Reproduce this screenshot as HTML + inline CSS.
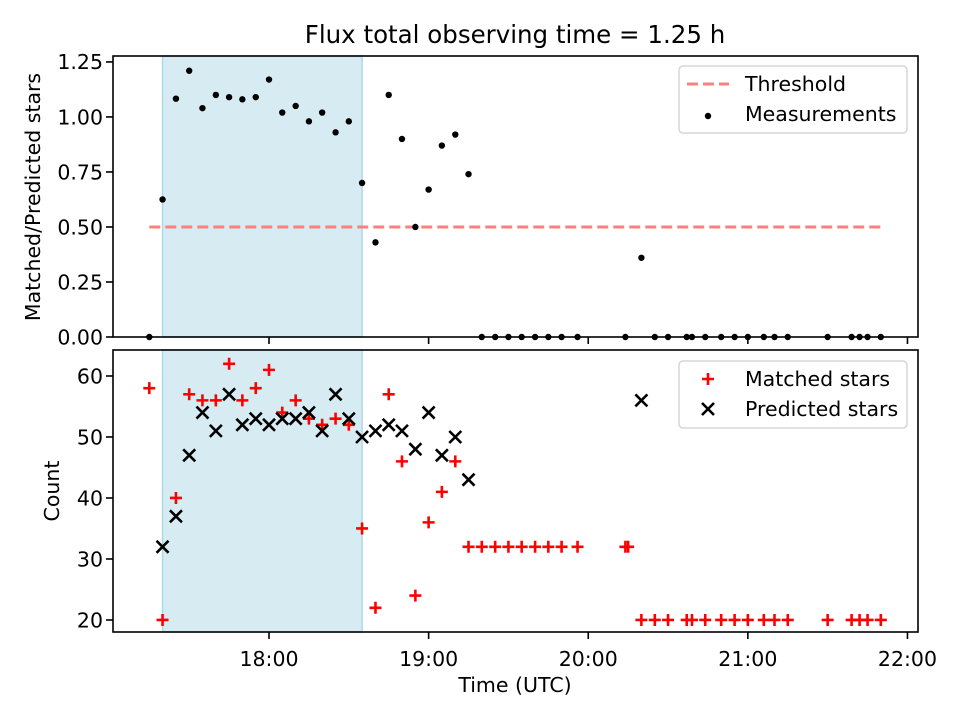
<!DOCTYPE html>
<html><head><meta charset="utf-8"><style>
html,body{margin:0;padding:0;background:#fff;}
svg text{font-family:"DejaVu Sans","Liberation Sans",sans-serif;fill:#000;}
</style></head><body>
<svg id="chart" width="960" height="720" xmlns="http://www.w3.org/2000/svg"></svg>
<script>
// times in decimal hours (UTC)
const ratioTimes = [17.25,17.333,17.417,17.5,17.583,17.667,17.75,17.833,17.917,18.0,18.083,18.167,18.25,18.333,18.417,18.5,18.583,18.667,18.75,18.833,18.917,19.0,19.083,19.167,19.25,
 19.333,19.417,19.5,19.583,19.667,19.75,19.833,19.933,20.233,20.333,20.417,20.5,20.617,20.65,20.733,20.833,20.917,21.0,21.1,21.167,21.25,21.5,21.65,21.7,21.75,21.833];
const ratioValues = [0,0.625,1.083,1.21,1.04,1.10,1.09,1.08,1.09,1.17,1.02,1.05,0.98,1.02,0.93,0.98,0.70,0.43,1.10,0.90,0.50,0.67,0.87,0.92,0.74,
 0,0,0,0,0,0,0,0,0,0.36,0,0,0,0,0,0,0,0,0,0,0,0,0,0,0,0];
const matchedTimes = [17.25,17.333,17.417,17.5,17.583,17.667,17.75,17.833,17.917,18.0,18.083,18.167,18.25,18.333,18.417,18.5,18.583,18.667,18.75,18.833,18.917,19.0,19.083,19.167,
 19.25,19.333,19.417,19.5,19.583,19.667,19.75,19.833,19.933,20.233,20.25,
 20.333,20.417,20.5,20.617,20.65,20.733,20.833,20.917,21.0,21.1,21.167,21.25,21.5,21.65,21.7,21.75,21.833];
const matchedValues = [58,20,40,57,56,56,62,56,58,61,54,56,53,52,53,52,35,22,57,46,24,36,41,46,
 32,32,32,32,32,32,32,32,32,32,32,
 20,20,20,20,20,20,20,20,20,20,20,20,20,20,20,20,20];
const predictedTimes = [17.333,17.417,17.5,17.583,17.667,17.75,17.833,17.917,18.0,18.083,18.167,18.25,18.333,18.417,18.5,18.583,18.667,18.75,18.833,18.917,19.0,19.083,19.167,19.25,20.333];
const predictedValues = [32,37,47,54,51,57,52,53,52,53,53,54,51,57,53,50,51,52,51,48,54,47,50,43,56];
const shadeSpan = [17.333,18.583];
const thresholdValue = 0.5;
const thresholdSpan = [17.25,21.833];
const xTickValues = [18,19,20,21,22];
const xTickLabels = ["18:00","19:00","20:00","21:00","22:00"];
const topTicks = [0,0.25,0.5,0.75,1.0,1.25];
const topTickLabels = ["0.00","0.25","0.50","0.75","1.00","1.25"];
const botTicks = [20,30,40,50,60];

const svg = document.getElementById('chart');
const NS = 'http://www.w3.org/2000/svg';
function mk(tag, attrs, parent){ const e=document.createElementNS(NS,tag); for(const k in attrs) e.setAttribute(k,attrs[k]); (parent||svg).appendChild(e); return e; }
const L=113,R=918;
const xMin=17.0226,xMax=22.066;
const x = t => L + (t-xMin)/(xMax-xMin)*(R-L);
const T={top:56,bot:337,min:0,max:1.277};
const B={top:350,bot:632,min:18.03,max:64.26};
const yT = v => T.bot - (v-T.min)/(T.max-T.min)*(T.bot-T.top);
const yB = v => B.bot - (v-B.min)/(B.max-B.min)*(B.bot-B.top);
const FS = 20.5;

let t = mk('text',{x:515,y:43,'text-anchor':'middle','font-size':'24.5'}); t.textContent='Flux total observing time = 1.25 h';
 

function panel(P, yf, ticks, labels, name){
  const g = mk('g',{});
  
  
  const sh = mk('rect',{x:x(shadeSpan[0]),y:P.top,width:x(shadeSpan[1])-x(shadeSpan[0]),height:P.bot-P.top,fill:'#add8e6','fill-opacity':0.5,stroke:'#add8e6','stroke-width':1.5},g);
  
  
  ticks.forEach((v,i)=>{
    const yy=yf(v);
    mk('line',{x1:L-7,x2:L,y1:yy,y2:yy,stroke:'#000','stroke-width':1.6},g);
    const tx=mk('text',{x:L-10,y:yy+7.3,'text-anchor':'end','font-size':FS},g);
    tx.textContent=labels[i];
    
    
  });
  xTickValues.forEach(v=>{ mk('line',{x1:x(v),x2:x(v),y1:P.bot,y2:P.bot+7,stroke:'#000','stroke-width':1.6},g); });
  return g;
}
const gt = panel(T,yT,topTicks,topTickLabels,'top-panel');
const gb = panel(B,yB,botTicks,botTicks.map(String),'bottom-panel');

const th = mk('line',{x1:x(thresholdSpan[0]),x2:x(thresholdSpan[1]),y1:yT(thresholdValue),y2:yT(thresholdValue),stroke:'#ff7f7f','stroke-width':3,'stroke-dasharray':'11,5'},gt);



ratioTimes.forEach((tt,i)=>{
  const c=mk('circle',{cx:x(tt),cy:yT(ratioValues[i]),r:3.2,fill:'#000'},gt);
  
  
});
matchedTimes.forEach((tt,i)=>{
  const cx=x(tt), cy=yB(matchedValues[i]);
  const p=mk('path',{d:`M${cx-6},${cy}H${cx+6}M${cx},${cy-6}V${cy+6}`,stroke:'#ff0000','stroke-width':2.6},gb);
  
  
});
predictedTimes.forEach((tt,i)=>{
  const cx=x(tt), cy=yB(predictedValues[i]); const s=6;
  const p=mk('path',{d:`M${cx-s},${cy-s}L${cx+s},${cy+s}M${cx-s},${cy+s}L${cx+s},${cy-s}`,stroke:'#000','stroke-width':2.6},gb);
  
  
});

[T,B].forEach(P=>{ mk('rect',{x:L,y:P.top,width:R-L,height:P.bot-P.top,fill:'none',stroke:'#000','stroke-width':1.6}); });

xTickValues.forEach((v,i)=>{
  const tx=mk('text',{x:x(v),y:666,'text-anchor':'middle','font-size':FS});
  tx.textContent=xTickLabels[i];
  
  
});
let xl=mk('text',{x:515,y:692,'text-anchor':'middle','font-size':FS}); xl.textContent='Time (UTC)';
 
let yl1=mk('text',{x:0,y:0,'text-anchor':'middle','font-size':FS,transform:'translate(40,197) rotate(-90)'}); yl1.textContent='Matched/Predicted stars';
 
let yl2=mk('text',{x:0,y:0,'text-anchor':'middle','font-size':FS,transform:'translate(59,491) rotate(-90)'}); yl2.textContent='Count';
 

function legend(y0, items, name){
  const g=mk('g',{});
  
  
  mk('rect',{x:679,y:y0,width:228,height:67,rx:4,fill:'#fff','fill-opacity':0.8,stroke:'#d6d6d6','stroke-width':1.5},g);
  items.forEach((it,i)=>{
    const cy=y0+18+i*30;
    it.draw(g,708,cy);
    const tx=mk('text',{x:745,y:cy+7,'font-size':FS},g);
    tx.textContent=it.label;
    
    
  });
}
legend(66,[
  {label:'Threshold',draw:(g,cx,cy)=>mk('line',{x1:cx-21,x2:cx+21,y1:cy,y2:cy,stroke:'#ff7f7f','stroke-width':3,'stroke-dasharray':'11,5'},g)},
  {label:'Measurements',draw:(g,cx,cy)=>mk('circle',{cx:cx,cy:cy+2,r:3.2,fill:'#000'},g)}
],'top-legend');
legend(361,[
  {label:'Matched stars',draw:(g,cx,cy)=>mk('path',{d:`M${cx-6},${cy}H${cx+6}M${cx},${cy-6}V${cy+6}`,stroke:'#ff0000','stroke-width':2.6},g)},
  {label:'Predicted stars',draw:(g,cx,cy)=>mk('path',{d:`M${cx-6},${cy-6}L${cx+6},${cy+6}M${cx-6},${cy+6}L${cx+6},${cy-6}`,stroke:'#000','stroke-width':2.6},g)}
],'bottom-legend');
</script>
</body></html>
